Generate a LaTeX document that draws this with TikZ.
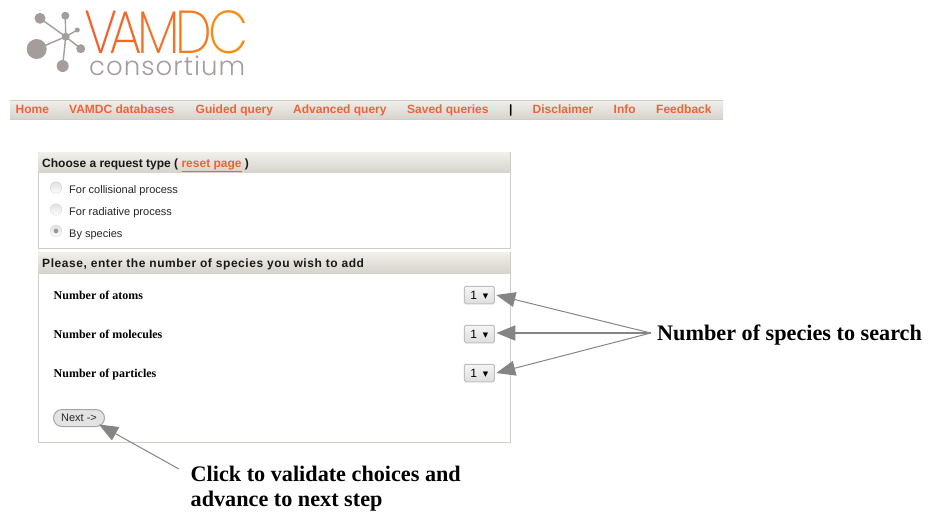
\documentclass[tikz,border=0pt]{standalone}
\usepackage{fontspec}
\setmainfont{Liberation Sans}
\newfontfamily\serifb{Liberation Serif}
\newfontfamily\dejavu{DejaVu Sans}
\newfontfamily\logofont{Poppins ExtraLight}
\newfontfamily\logowide[LetterSpace=4]{Poppins Light}
\newfontfamily\spaced[LetterSpace=4.7]{Liberation Sans}
\usetikzlibrary{arrows.meta,positioning,calc}
\definecolor{navtxt}{HTML}{F0623A}
\definecolor{logog}{HTML}{A59C9C}
\definecolor{panelline}{HTML}{CFCDC6}
\definecolor{bandtop}{HTML}{F0EFEA}
\definecolor{bandbot}{HTML}{D6D3CC}
\definecolor{arrowg}{HTML}{858585}
\tikzset{
 x=1pt,y=-1pt,
 navitem/.style={anchor=base west,inner sep=0pt,text=navtxt,font=\fontsize{12}{14}\selectfont\bfseries},
 headtxt/.style={anchor=base west,inner sep=0pt,text=black!90,font=\fontsize{12}{14}\selectfont\bfseries},
 radiotxt/.style={anchor=base west,inner sep=0pt,text=black!85,font=\fontsize{11}{13}\selectfont},
 rowtxt/.style={anchor=base west,inner sep=0pt,text=black,font=\serifb\fontsize{12}{14}\selectfont\bfseries},
 notetxt/.style={anchor=base west,inner xsep=6pt,inner ysep=0pt,align=left,text=black,font=\serifb\fontsize{22.2}{25}\selectfont\bfseries},
 panelbox/.style={draw=panelline,line width=1pt,fill=white},
 band/.style={inner sep=0pt,anchor=north west,top color=bandtop,bottom color=bandbot},
 radio/.style={circle,draw=black!15,inner sep=0pt,minimum size=11.5pt,top color=black!12,bottom color=white},
 selectbox/.style={draw=black!25,line width=1pt,rounded corners=1.5pt,top color=black!4,bottom color=black!13,minimum width=30pt,minimum height=17.5pt,inner sep=0pt,outer sep=2pt,font=\fontsize{12}{14}\selectfont},
 nextbtn/.style={draw=black!35,line width=1pt,rounded corners=8.5pt,fill=black!11,minimum width=51pt,minimum height=17pt,inner sep=0pt,font=\fontsize{11}{13}\selectfont,text=black!85},
 callout/.style={draw=arrowg,line width=1pt,-{Triangle[length=19pt,width=15pt,fill=arrowg]}},
 atom/.style={circle,fill=logog,inner sep=0pt,minimum size=#1},
 bond/.style={draw=logog,line width=1.4pt},
}
\newcommand{\selval}{\raisebox{-1pt}{1}\hspace{6pt}\raisebox{0pt}{\dejavu\fontsize{7}{8}\selectfont ▼}}
\begin{document}
\begin{tikzpicture}
\useasboundingbox (0,0) rectangle (933,520);
% logo
\node[atom=3pt] (hub) at (65.7,36.7) {};
\node[atom=11pt] (a1) at (40,18.3) {};
\node[atom=8pt] (a2) at (65.3,15.7) {};
\node[atom=5pt] (a3) at (77.3,30) {};
\node[atom=9pt] (a4) at (80.7,48.7) {};
\node[atom=12pt] (a5) at (62.7,66) {};
\node[atom=20pt] (a6) at (36.7,49) {};
\foreach \a in {a1,a2,a3,a4,a5,a6} \draw[bond] (hub.center) -- (\a.center);
\fill[logog] (hub.center) circle (4pt);
\node[anchor=base west,inner sep=0pt,xscale=0.93,yscale=1.08,font=\logofont\fontsize{56}{56}\selectfont] (vamdc) at (84,53) {\textcolor[HTML]{F0622F}{V}\kern-9pt\textcolor[HTML]{F26A2A}{A}\kern-5pt\textcolor[HTML]{F46F26}{M}\kern-5pt\textcolor[HTML]{F67A1E}{D}\kern-4pt\textcolor[HTML]{F98A10}{C}};
\node[anchor=base west,inner sep=0pt,text=logog,font=\logowide\fontsize{26}{26}\selectfont] (cons) at (89,75.5) {consortium};
% nav bar
\node[band,minimum width=713pt,minimum height=19pt] (nav) at (10,100) {};
\draw[panelline] (nav.north west) -- (nav.north east) (nav.south west) -- (nav.south east);
\node[navitem] (n1) at (15.5,113.5) {Home};
\node[navitem] (n2) at (69,113.5) {VAMDC databases};
\node[navitem] (n3) at (195.5,113.5) {Guided query};
\node[navitem] (n4) at (293,113.5) {Advanced query};
\node[navitem] (n5) at (407,113.5) {Saved queries};
\node[navitem,text=black] (n6) at (509,113.5) {|};
\node[navitem] (n7) at (532.5,113.5) {Disclaimer};
\node[navitem] (n8) at (613.5,113.5) {Info};
\node[navitem] (n9) at (656,113.5) {Feedback};
% panel 1
\node[panelbox,anchor=north west,minimum width=472pt,minimum height=95.5pt,inner sep=0pt] (p1) at (38,152) {};
\node[band,minimum width=471pt,minimum height=20pt] (h1) at (38.5,152.5) {};
\node[headtxt] (t1) at (42,167.5) {Choose a request type ( \textcolor{navtxt}{\underline{reset page}} )};
\node[radio] (r1) at (56,187.5) {};
\node[radio] (r2) at (56,209.5) {};
\node[radio] (r3) at (56,231) {};
\fill[black!40] (r3.center) circle (2.4pt);
\node[radiotxt] (rt1) at (69,193.5) {For collisional process};
\node[radiotxt] (rt2) at (69,215.5) {For radiative process};
\node[radiotxt] (rt3) at (69,237.5) {By species};
% panel 2
\node[panelbox,anchor=north west,minimum width=472pt,minimum height=190pt,inner sep=0pt] (p2) at (38,252) {};
\node[band,minimum width=471pt,minimum height=20.5pt] (h2) at (38.5,252.5) {};
\node[headtxt,font=\spaced\fontsize{12}{14}\selectfont\bfseries] (t2) at (42,267.5) {Please, enter the number of species you wish to add};
\node[rowtxt] (l1) at (53.5,299) {Number of atoms};
\node[rowtxt] (l2) at (53.5,338) {Number of molecules};
\node[rowtxt] (l3) at (53.5,377) {Number of particles};
\node[selectbox] (s1) at (479.3,295) {\selval};
\node[selectbox] (s2) at (479.3,334) {\selval};
\node[selectbox] (s3) at (479.3,373) {\selval};
\node[nextbtn] (next) at (79,418) {Next ->};
% annotations
\node[notetxt] (note1) at (651,340) {Number of species to search};
\node[notetxt] (note2) at (184.5,506) {Click to validate choices and\\advance to next step};
\coordinate (o1) at (650.7,333);
\coordinate (o2) at (179,469);
\draw[callout] (o1) -- (s1.east);
\draw[callout,line width=1.6pt] (o1) -- ([yshift=1pt]s2.east);
\draw[callout] (o1) -- (s3.east);
\draw[callout] (o2) -- ([xshift=-6pt,yshift=2.5pt]next.south east);
\end{tikzpicture}
\end{document}
